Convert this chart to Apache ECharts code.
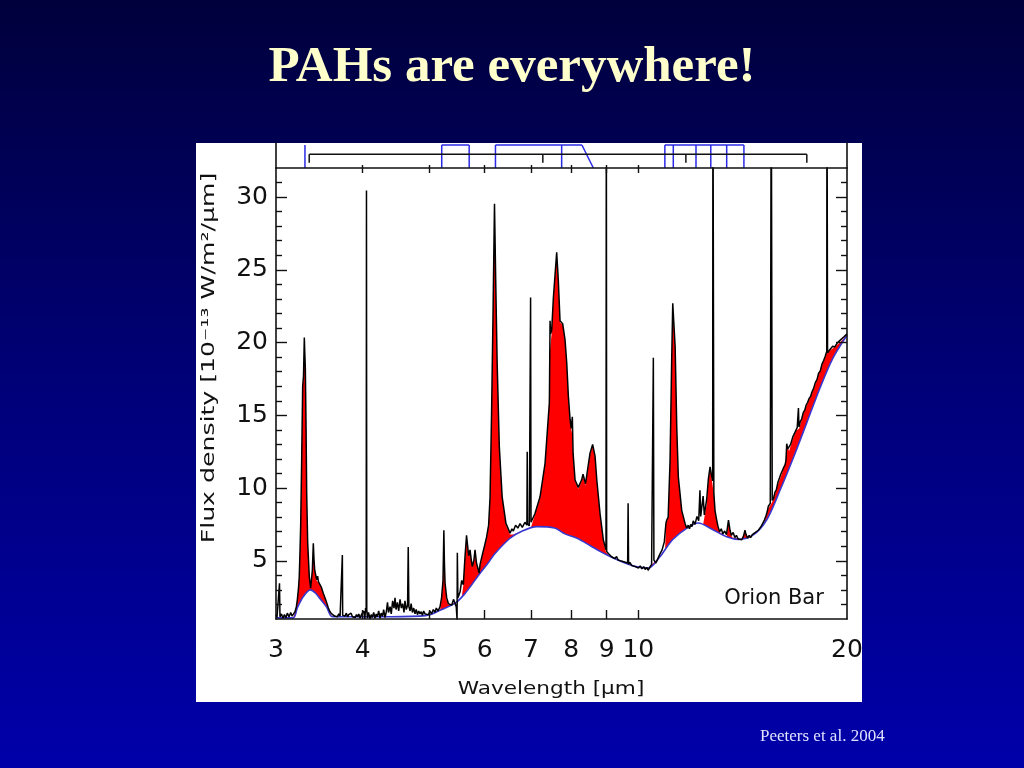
<!DOCTYPE html>
<html><head><meta charset="utf-8">
<script src="https://cdn.jsdelivr.net/npm/echarts@6/dist/echarts.min.js"></script>
<style>html,body{margin:0;padding:0;background:#000060;}#c{width:1024px;height:768px;}</style>
</head><body><div id="c"></div>
<script>
// ---------------- DATA ----------------
// Observed spectrum [wavelength (µm), flux density (1e-13 W/m2/µm)]
const spectrum = [
[3.000,1.29],[3.010,1.1],[3.020,1.2],[3.030,1.05],[3.035,3.45],[3.040,1.15],[3.055,1.35],[3.070,1.05],[3.085,1.3],[3.101,1.1],
[3.115,1.4],[3.133,1.15],[3.150,1.45],[3.164,1.2],[3.180,1.35],[3.196,1.5],[3.210,1.85],[3.220,2.3],[3.232,3.05],[3.241,3.9],
[3.250,5.85],[3.256,7.35],[3.267,11.9],[3.278,17.0],[3.287,17.7],[3.296,20.35],[3.300,19.5],[3.307,18.3],[3.315,14.2],[3.322,9.65],
[3.333,6.25],[3.351,3.9],[3.366,3.12],[3.385,4.35],[3.396,6.2],[3.404,5.05],[3.412,4.35],[3.434,3.7],[3.445,3.95],[3.455,3.55],
[3.473,3.45],[3.490,3.15],[3.511,2.75],[3.531,2.45],[3.551,2.1],[3.570,1.75],[3.590,1.5],[3.610,1.35],[3.629,1.4],[3.645,1.2],
[3.662,1.3],[3.680,1.15],[3.695,1.35],[3.712,1.2],[3.728,1.3],[3.736,1.15],[3.740,5.4],[3.744,1.25],[3.755,1.35],[3.773,1.2],
[3.790,1.4],[3.805,1.15],[3.820,1.3],[3.836,1.2],[3.850,1.4],[3.868,1.15],[3.885,1.25],[3.901,1.1],[3.920,1.3],[3.935,1.15],
[3.950,1.35],[3.966,1.05],[3.985,1.3],[4.000,1.2],[4.015,1.55],[4.030,1.0],[4.040,1.75],[4.048,1.45],[4.052,30.45],[4.056,1.65],
[4.065,1.05],[4.080,1.45],[4.100,1.0],[4.115,1.3],[4.130,1.1],[4.150,1.45],[4.169,1.05],[4.185,1.35],[4.200,1.15],[4.220,1.55],
[4.239,1.05],[4.255,1.4],[4.275,1.2],[4.290,1.65],[4.310,1.1],[4.330,1.55],[4.345,2.15],[4.360,1.45],[4.382,1.85],[4.400,1.35],
[4.420,2.25],[4.440,1.75],[4.455,2.45],[4.470,1.65],[4.490,2.15],[4.510,1.55],[4.530,2.35],[4.550,1.75],[4.570,2.05],[4.590,1.45],
[4.605,2.25],[4.625,1.65],[4.645,1.95],[4.655,5.95],[4.665,1.85],[4.684,1.55],[4.700,2.05],[4.720,1.45],[4.741,1.75],[4.761,1.35],
[4.780,1.65],[4.800,1.3],[4.820,1.55],[4.841,1.35],[4.860,1.5],[4.880,1.25],[4.900,1.55],[4.922,1.35],[4.950,1.45],[4.980,1.3],
[5.004,1.55],[5.030,1.35],[5.060,1.65],[5.088,1.45],[5.110,1.75],[5.140,1.55],[5.174,1.85],[5.200,2.45],[5.225,3.65],[5.240,7.1],
[5.250,4.85],[5.261,3.45],[5.290,2.45],[5.320,2.05],[5.349,2.15],[5.380,1.95],[5.410,2.35],[5.438,2.25],[5.460,1.85],[5.475,0.95],
[5.480,5.55],[5.490,2.45],[5.529,2.85],[5.560,3.65],[5.590,3.35],[5.621,5.25],[5.650,6.75],[5.670,6.05],[5.690,5.35],[5.716,5.75],
[5.740,5.05],[5.760,4.6],[5.790,5.05],[5.812,5.75],[5.840,4.85],[5.870,4.45],[5.890,4.15],[5.910,4.75],[5.950,5.35],[6.000,6.05],
[6.040,6.65],[6.080,7.45],[6.109,9.35],[6.140,15.15],[6.170,22.0],[6.200,29.55],[6.225,24.3],[6.255,18.6],[6.300,12.85],[6.360,9.4],
[6.440,7.57],[6.529,6.9],[6.570,7.2],[6.600,7.05],[6.650,7.45],[6.700,7.25],[6.750,7.55],[6.800,7.3],[6.860,7.65],[6.905,7.45],[6.912,12.5],
[6.920,7.55],[6.960,7.4],[6.990,23.1],[7.000,7.65],[7.040,7.75],[7.093,8.25],[7.213,9.4],[7.334,11.7],[7.420,15.1],[7.440,15.8],
[7.457,21.5],[7.470,20.6],[7.498,20.85],[7.540,23.1],[7.623,26.2],[7.664,24.3],[7.708,21.5],[7.776,21.3],[7.837,20.2],[7.882,18.6],
[7.925,16.3],[7.970,14.7],[8.000,14.1],[8.030,14.9],[8.050,12.4],[8.103,10.55],[8.190,10.05],[8.280,10.55],[8.320,10.95],[8.390,10.3],
[8.516,12.4],[8.590,13.0],[8.659,12.2],[8.710,10.55],[8.804,8.25],[8.900,6.45],[8.980,5.75],[8.990,40],[9.000,5.65],
[9.05,5.5],[9.10,5.38],[9.15,5.28],[9.20,5.38],[9.25,5.15],[9.30,5.3],[9.35,5.05],[9.41,5.15],[9.45,4.98],[9.50,5.1],[9.55,4.92],[9.60,5.0],
[9.650,4.85],[9.665,8.95],[9.680,4.75],[9.72,4.9],[9.78,4.68],[9.84,4.8],[9.90,4.6],[9.95,4.72],[10.00,4.5],[10.06,4.65],[10.12,4.45],
[10.18,4.6],[10.23,4.4],[10.28,4.55],[10.33,4.35],[10.40,4.6],[10.45,4.75],[10.51,18.95],
[10.53,5.05],[10.60,4.85],[10.68,5.2],[10.75,5.5],[10.82,5.75],[10.90,6.3],[10.96,7.6],[10.99,7.8],[11.04,8.0],[11.11,11.9],[11.17,18.8],[11.21,22.7],
[11.30,19.7],[11.36,14.2],[11.42,10.75],[11.55,8.45],[11.68,7.55],[11.74,7.25],[11.80,7.45],[11.85,7.2],[11.90,7.5],[11.95,7.35],[12.00,7.75],[12.07,7.5],[12.15,8.05],
[12.22,7.75],[12.27,9.85],[12.30,8.05],[12.40,9.45],[12.45,8.15],[12.55,9.25],[12.62,10.65],[12.69,11.45],[12.75,10.85],[12.80,10.5],
[12.81,40],[12.85,9.65],[12.90,8.45],[12.96,7.9],[13.03,7.35],[13.10,7.0],[13.17,7.2],[13.24,6.85],[13.32,7.05],[13.40,6.8],[13.49,7.8],[13.56,7.1],
[13.62,6.75],[13.70,6.95],[13.78,6.6],[13.85,6.75],[13.93,6.5],[14.02,6.6],[14.10,6.45],[14.18,6.7],[14.25,7.1],[14.30,6.8],[14.38,6.55],
[14.45,6.75],[14.52,6.6],[14.60,6.8],[14.68,6.7],[14.75,6.95],[14.82,6.85],[14.90,7.1],[14.98,7.1],[15.05,7.4],[15.12,7.5],[15.20,7.8],
[15.28,8.1],[15.34,8.35],[15.40,8.75],[15.47,8.8],[15.50,8.95],[15.55,40],[15.60,9.15],[15.67,9.3],[15.74,9.7],[15.82,9.9],[15.90,10.4],
[15.98,10.5],[16.05,10.95],[16.12,11.0],[16.20,11.4],[16.28,11.6],[16.33,11.9],[16.37,13.05],[16.43,12.7],[16.50,12.65],[16.58,13.0],
[16.65,13.1],[16.70,13.5],[16.78,13.6],[16.85,13.9],[16.95,14.15],[17.02,15.5],[17.05,14.2],[17.12,14.55],[17.20,14.75],[17.30,15.2],
[17.38,15.35],[17.46,15.7],[17.55,15.9],[17.63,16.15],[17.72,16.3],[17.80,16.6],[17.90,16.85],[18.00,17.25],[18.10,17.45],[18.20,17.9],
[18.30,18.05],[18.40,18.5],[18.50,18.75],[18.60,19.05],[18.70,19.4],[18.71,40],[18.75,19.3],[18.85,19.45],[18.95,19.55],[19.07,19.75],
[19.20,19.7],[19.35,19.95],[19.45,19.9],[19.54,20.15],[19.65,20.1],[19.80,20.4],[19.90,20.5],[20.00,20.6]
];
// Adopted continuum (blue curve)
const continuum = [
[3.000,1.08],[3.176,1.08],[3.222,1.8],[3.286,2.55],[3.363,3.0],[3.418,2.8],[3.473,2.4],[3.551,1.8],[3.611,1.17],[3.712,1.15],
[4.239,1.15],[4.841,1.2],[5.004,1.3],[5.174,1.6],[5.349,1.9],[5.480,2.2],[5.621,2.75],[5.716,3.2],[5.910,4.15],[6.070,4.85],
[6.210,5.5],[6.529,6.55],[6.800,7.05],[7.140,7.35],[7.570,7.25],[7.837,6.85],[8.160,6.55],[8.516,6.05],[8.804,5.65],[9.103,5.3],
[9.567,4.85],[9.920,4.6],[10.33,4.5],[10.75,5.3],[11.20,6.45],[11.75,7.25],[12.20,7.6],[12.83,7.12],[13.41,6.65],[13.95,6.47],
[14.65,6.78],[15.32,7.82],[16.01,9.85],[16.74,12.1],[17.50,14.5],[18.29,16.9],[19.07,18.9],[20.00,20.5]
];
// Upper edge of the red PAH emission (spectrum without lines/noise)
const pahEmission = [
[3.000,1.08],[3.176,1.08],[3.200,1.55],[3.220,2.25],[3.241,3.85],[3.256,7.3],[3.267,11.85],[3.278,16.9],[3.287,17.6],[3.296,20.1],
[3.307,18.2],[3.315,14.1],[3.322,9.6],[3.333,6.2],[3.351,3.85],[3.366,3.1],[3.385,4.3],[3.396,6.1],[3.412,4.3],[3.434,3.65],
[3.455,3.5],[3.473,3.4],[3.490,3.1],[3.511,2.7],[3.531,2.4],[3.551,2.0],[3.590,1.45],[3.611,1.17],[3.712,1.15],[4.239,1.15],
[4.841,1.2],[5.004,1.3],[5.174,1.6],[5.200,2.3],[5.225,3.5],[5.240,6.9],[5.250,4.75],[5.261,3.35],[5.290,2.3],[5.320,1.97],
[5.349,1.9],[5.480,2.2],[5.560,2.5],[5.590,3.3],[5.621,5.15],[5.650,6.6],[5.670,6.0],[5.690,5.3],[5.716,5.65],[5.740,5.0],
[5.760,4.55],[5.790,4.95],[5.812,5.6],[5.840,4.75],[5.870,4.35],[5.890,4.15],[5.910,4.65],[5.950,5.25],[6.000,5.95],[6.040,6.55],
[6.080,7.35],[6.109,9.25],[6.140,15.0],[6.170,21.9],[6.200,29.4],[6.225,24.2],[6.255,18.5],[6.300,12.75],[6.360,9.3],[6.440,7.45],
[6.529,6.8],[6.600,6.8],[6.800,7.05],[7.000,7.3],[7.093,8.2],[7.213,9.3],[7.334,11.6],[7.420,15.0],[7.457,19.5],[7.498,20.7],
[7.540,23.0],[7.623,26.0],[7.664,24.2],[7.708,21.4],[7.776,21.2],[7.837,20.1],[7.882,18.5],[7.925,16.2],[7.970,14.6],[8.030,13.6],
[8.050,12.3],[8.103,10.45],[8.190,9.95],[8.280,10.45],[8.320,10.85],[8.390,10.2],[8.516,12.3],[8.590,12.9],[8.659,12.1],[8.710,10.45],
[8.804,8.15],[8.900,6.35],[8.980,5.6],[9.103,5.3],[9.567,4.85],[9.920,4.6],[10.33,4.5],[10.75,5.3],[10.93,5.85],[10.96,7.5],
[10.99,7.7],[11.04,7.9],[11.11,11.8],[11.17,18.7],[11.21,22.6],[11.30,19.6],[11.36,14.1],[11.42,10.65],[11.55,8.35],[11.68,7.45],
[11.75,7.25],[12.20,7.6],[12.40,7.5],[12.55,8.9],[12.62,10.5],[12.69,11.35],[12.75,10.75],[12.85,9.55],[12.90,8.35],[13.03,7.25],
[13.12,6.95],[13.41,6.65],[13.49,7.7],[13.56,7.0],[13.66,6.6],[14.10,6.5],[14.25,7.0],[14.35,6.7],[14.49,6.65],[14.98,7.1],
[15.20,7.65],[15.40,8.6],[15.60,9.05],[15.74,9.55],[15.90,10.25],[16.10,10.95],[16.30,11.75],[16.37,12.95],[16.50,12.55],[16.70,13.35],
[16.90,13.95],[17.06,14.1],[17.30,15.1],[17.60,16.0],[17.90,16.8],[18.20,17.8],[18.50,18.7],[18.70,19.3],[19.07,19.6],[19.54,20.0],[20.00,20.55]
];
// Axis ticks / labels
const xTickLabels = [3, 4, 5, 6, 7, 8, 9, 10, 20];
const xTicks = [4, 5, 6, 7, 8, 9, 10];
const yMajorTicks = [5, 10, 15, 20, 25, 30];
const yMinorTicks = [2,3,4,6,7,8,9,11,12,13,14,16,17,18,19,21,22,23,24,26,27,28,29,31];
// Top strip: band markers (wavelengths, µm)
const bandVerticals = [3.303, 5.203, 5.70, 6.22, 7.75, 10.92, 11.23, 12.11, 12.72, 13.41, 14.20];
const bandTops = [[5.203, 5.70], [6.22, 8.29], [10.92, 14.20]];
const bandSlant = [8.29, 8.61];
const bracketRange = [3.35, 17.5];
const bracketTicks = [3.35, 7.28, 11.71, 17.5];

// ---------------- CHART ----------------
const TOP_Y = 0.92, BR_Y = 0.553, BR_TICK_Y = 0.21;
const X_MIN = 3, X_MAX = 20, Y_MIN = 1, Y_MAX = 32;
const chart = echarts.init(document.getElementById('c'), null, {renderer: 'canvas'});
const ink = '#111111';
const tickFont = {fontFamily: 'DejaVu Sans', fontSize: 25, color: ink};

const blueLines = [];
bandVerticals.forEach(v => blueLines.push({coords: [[v, 0], [v, TOP_Y]]}));
bandTops.forEach(t => blueLines.push({coords: [[t[0], TOP_Y], [t[1], TOP_Y]]}));
blueLines.push({coords: [[bandSlant[0], TOP_Y], [bandSlant[1], 0]]});
const blackLines = [{coords: [[bracketRange[0], BR_Y], [bracketRange[1], BR_Y]]}];
bracketTicks.forEach(t => blackLines.push({coords: [[t, BR_Y], [t, BR_TICK_Y]]}));

function xAx(extra) {
  return Object.assign({
    type: 'log', logBase: 10, min: X_MIN, max: X_MAX, z: 10,
    splitLine: {show: false}, minorTick: {show: false},
    axisLine: {show: true, onZero: false, lineStyle: {color: ink, width: 1.6}},
    axisTick: {show: true, inside: true, length: 9, customValues: xTicks, lineStyle: {color: ink, width: 1.4}},
    axisLabel: {show: false}
  }, extra);
}
function yAx(extra) {
  return Object.assign({
    type: 'value', min: Y_MIN, max: Y_MAX, z: 10, gridIndex: 0,
    splitLine: {show: false},
    axisLine: {show: false, lineStyle: {color: ink, width: 1.6}},
    axisTick: {show: true, inside: true, length: 11, customValues: yMajorTicks, lineStyle: {color: ink, width: 1.4}},
    axisLabel: {show: false}
  }, extra);
}

const option = {
  animation: false,
  backgroundColor: 'transparent',
  graphic: [
    {type: 'rect', z: -20, silent: true, shape: {x: 0, y: 0, width: 1024, height: 768},
     style: {fill: new echarts.graphic.LinearGradient(0, 0, 0, 1, [{offset: 0, color: '#00003c'}, {offset: 0.5, color: '#000078'}, {offset: 1, color: '#0000aa'}])}},
    {type: 'rect', z: -10, silent: true, shape: {x: 196, y: 143, width: 666, height: 559}, style: {fill: '#ffffff'}},
    {type: 'text', z: 50, x: 512, y: 68, style: {text: 'PAHs are everywhere!', font: 'bold 51px "Liberation Serif"', fill: '#ffffcc', align: 'center', verticalAlign: 'middle'}},
    {type: 'text', z: 50, x: 760, y: 737, style: {text: 'Peeters et al. 2004', font: '17px "Liberation Serif"', fill: '#e2e2ff', align: 'left', verticalAlign: 'middle'}},
    {type: 'text', z: 50, x: 210, y: 358, rotation: Math.PI / 2, scaleX: 1.48, style: {text: 'Flux density [10⁻¹³ W/m²/µm]', font: '17px "DejaVu Sans"', fill: ink, align: 'center', verticalAlign: 'middle'}},
    {type: 'text', z: 50, x: 551, y: 689, scaleX: 1.2, style: {text: 'Wavelength [µm]', font: '18px "DejaVu Sans"', fill: ink, align: 'center', verticalAlign: 'middle'}},
    {type: 'text', z: 50, x: 774, y: 599, style: {text: 'Orion Bar', font: '21px "DejaVu Sans"', fill: ink, align: 'center', verticalAlign: 'middle'}}
  ],
  grid: [
    {left: 276, top: 168, width: 571, height: 451, containLabel: false},
    {left: 276, top: 143, width: 571, height: 25, containLabel: false}
  ],
  xAxis: [
    xAx({gridIndex: 0, position: 'bottom',
         axisLabel: {show: true, customValues: xTickLabels, margin: 19, ...tickFont}}),
    xAx({gridIndex: 0, position: 'top', axisTick: {show: true, inside: true, length: 5, customValues: xTicks, lineStyle: {color: ink, width: 1.4}}}),
    xAx({gridIndex: 1, position: 'bottom', axisLine: {show: false},
         axisTick: {show: true, inside: true, length: 3, customValues: xTicks, lineStyle: {color: ink, width: 1.4}}})
  ],
  yAxis: [
    yAx({position: 'left', axisLine: {show: true, lineStyle: {color: ink, width: 1.6}},
         axisLabel: {show: true, customValues: yMajorTicks, margin: 8, ...tickFont}}),
    yAx({position: 'left', axisTick: {show: true, inside: true, length: 6, customValues: yMinorTicks, lineStyle: {color: ink, width: 1.4}}}),
    yAx({position: 'right', axisLine: {show: true, lineStyle: {color: ink, width: 1.6}}}),
    yAx({position: 'right', axisTick: {show: true, inside: true, length: 6, customValues: yMinorTicks, lineStyle: {color: ink, width: 1.4}}}),
    {type: 'value', gridIndex: 1, position: 'left', min: 0, max: 1, z: 10, splitLine: {show: false},
     axisLine: {show: true, lineStyle: {color: ink, width: 1.6}}, axisTick: {show: false}, axisLabel: {show: false}},
    {type: 'value', gridIndex: 1, position: 'right', min: 0, max: 1, z: 10, splitLine: {show: false},
     axisLine: {show: true, lineStyle: {color: ink, width: 1.6}}, axisTick: {show: false}, axisLabel: {show: false}}
  ],
  series: [
    {name: 'PAH emission', type: 'line', xAxisIndex: 0, yAxisIndex: 0, data: pahEmission, showSymbol: false, z: 2,
     lineStyle: {width: 0, opacity: 0}, areaStyle: {color: '#ff0000', opacity: 1, origin: 'start'}},
    {name: 'Continuum', type: 'line', xAxisIndex: 0, yAxisIndex: 0, data: continuum, showSymbol: false, z: 3, smooth: 0.3,
     lineStyle: {color: '#3838d0', width: 1.6}, areaStyle: {color: '#ffffff', opacity: 1, origin: 'start'}},
    {name: 'Spectrum', type: 'line', xAxisIndex: 0, yAxisIndex: 0, data: spectrum, showSymbol: false, z: 4,
     lineStyle: {color: '#000000', width: 1.5}},
    {name: 'Band markers', type: 'lines', coordinateSystem: 'cartesian2d', xAxisIndex: 2, yAxisIndex: 4, polyline: true, z: 5,
     data: blueLines, lineStyle: {color: '#2a2ae6', width: 1.5, opacity: 1}},
    {name: 'Bracket', type: 'lines', coordinateSystem: 'cartesian2d', xAxisIndex: 2, yAxisIndex: 4, polyline: true, z: 5,
     data: blackLines, lineStyle: {color: ink, width: 1.5, opacity: 1}}
  ]
};
chart.setOption(option);
</script></body></html>
